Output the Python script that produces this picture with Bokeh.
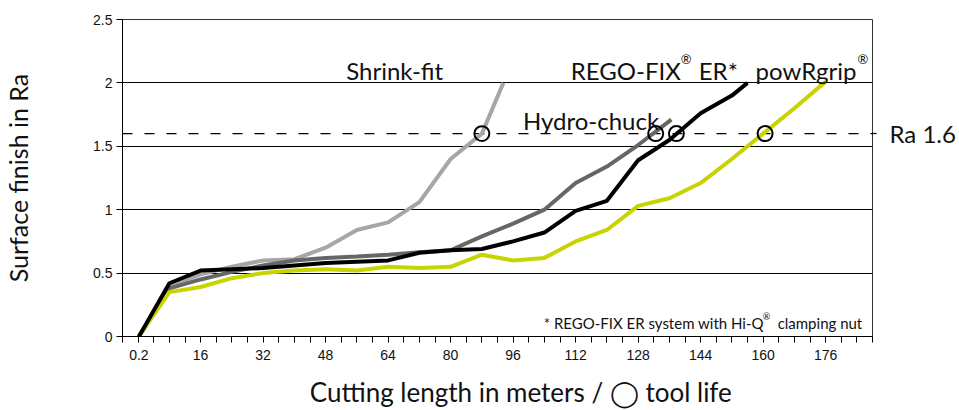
from bokeh.plotting import figure
from bokeh.models import FixedTicker, Label, Span, Range1d, LinearAxis
from bokeh.embed import file_html
from bokeh.resources import INLINE

# ---------------- data ----------------
shrink_x = [0.2, 8, 16, 24, 32, 40, 48, 56, 64, 72, 80, 88, 93.5]
shrink_y = [0, 0.40, 0.49, 0.55, 0.60, 0.61, 0.70, 0.84, 0.90, 1.06, 1.40, 1.60, 2.0]

hydro_x = [0.2, 8, 16, 24, 32, 40, 48, 56, 64, 72, 80, 88, 96, 104, 112, 120, 128, 136.5]
hydro_y = [0, 0.38, 0.45, 0.51, 0.56, 0.60, 0.62, 0.63, 0.645, 0.665, 0.68, 0.79, 0.89, 1.00, 1.21, 1.34, 1.51, 1.71]

rego_x = [0.2, 8, 16, 24, 32, 40, 48, 56, 64, 72, 80, 88, 96, 104, 112, 120, 128, 136, 144, 152, 156]
rego_y = [0, 0.42, 0.52, 0.53, 0.54, 0.56, 0.58, 0.59, 0.60, 0.66, 0.68, 0.69, 0.75, 0.82, 0.99, 1.07, 1.39, 1.55, 1.76, 1.90, 2.0]

powr_x = [0.2, 8, 16, 24, 32, 40, 48, 56, 64, 72, 80, 88, 96, 104, 112, 120, 128, 136, 144, 152, 160, 168, 176]
powr_y = [0, 0.35, 0.39, 0.46, 0.50, 0.52, 0.53, 0.52, 0.55, 0.54, 0.55, 0.645, 0.60, 0.62, 0.75, 0.84, 1.03, 1.09, 1.21, 1.40, 1.60, 1.80, 2.01]

tool_life_x = [88, 132.5, 137.8, 160.5]
tool_life_y = [1.6, 1.6, 1.6, 1.6]
ra_limit = 1.6
ra_label = "Ra 1.6"

x_tick_values = [0.2, 16, 32, 48, 64, 80, 96, 112, 128, 144, 160, 176]
x_tick_labels = ["0.2", "16", "32", "48", "64", "80", "96", "112", "128", "144", "160", "176"]
y_tick_values = [0, 0.5, 1, 1.5, 2, 2.5]
y_tick_labels = ["0", "0.5", "1", "1.5", "2", "2.5"]

x_title = "Cutting length in meters / ◯ tool life"
y_title = "Surface finish in Ra"

# ---------------- layout ----------------
W, H = 959, 410
BL, BR, BT, BB = 121, 87, 19, 74
X0, X1 = -4, 188
Y0, Y1 = 0, 2.5
FW = W - BL - BR
FH = H - BT - BB
SX = FW / (X1 - X0)
SY = FH / (Y1 - Y0)


def dx(px):
    return X0 + (px - BL) / SX


def dy(py):
    return Y1 - (py - BT) / SY


p = figure(width=W, height=H, output_backend="svg", toolbar_location=None,
           x_range=Range1d(X0, X1), y_range=Range1d(Y0, Y1),
           min_border_left=BL, min_border_right=BR, min_border_top=BT, min_border_bottom=BB)
p.background_fill_color = "white"
p.border_fill_color = "white"
p.outline_line_color = "#333333"
p.outline_line_width = 1

minor = [v for v in range(-4, 189, 4) if v % 16 != 0]
p.xaxis.ticker = FixedTicker(ticks=x_tick_values, minor_ticks=minor)
p.xaxis.major_label_overrides = {v: s for v, s in zip(x_tick_values, x_tick_labels)}
p.yaxis.ticker = FixedTicker(ticks=y_tick_values, minor_ticks=[])
p.yaxis.major_label_overrides = {v: s for v, s in zip(y_tick_values, y_tick_labels)}

for ax in (p.xaxis, p.yaxis):
    ax.axis_line_color = "black"
    ax.axis_line_width = 1
    ax.major_tick_line_color = "black"
    ax.major_tick_out = 6
    ax.major_tick_in = 0
    ax.minor_tick_line_color = "black"
    ax.minor_tick_out = 6
    ax.minor_tick_in = 0
    ax.major_label_text_font = "Liberation Sans"
    ax.major_label_text_font_size = "14px"
    ax.major_label_text_color = "#111111"
    ax.axis_label_text_font = "Lato"
    ax.axis_label_text_font_style = "normal"
    ax.axis_label_text_color = "#111111"
p.xaxis.major_label_standoff = 7
p.yaxis.major_label_standoff = 4

NBSP = "\u00a0"
p.xaxis.axis_label = NBSP * 7 + x_title
p.xaxis.axis_label_text_font_size = "26px"
p.xaxis.axis_label_standoff = 13
p.yaxis.axis_label = y_title
p.yaxis.axis_label_text_font_size = "25px"
p.yaxis.axis_label_standoff = 57

ra_axis = LinearAxis(ticker=FixedTicker(ticks=[ra_limit], minor_ticks=[]),
                     major_label_overrides={ra_limit: ra_label},
                     axis_line_color=None, major_tick_out=4, major_tick_in=0,
                     major_tick_line_color="black", major_tick_line_width=1.3,
                     minor_tick_line_color=None, major_label_standoff=13,
                     major_label_text_font="Lato", major_label_text_font_size="24px",
                     major_label_text_color="#111111")
p.add_layout(ra_axis, "right")

p.xgrid.visible = False
p.ygrid.ticker = FixedTicker(ticks=y_tick_values)
p.ygrid.grid_line_color = "black"
p.ygrid.grid_line_width = 1

p.add_layout(Span(location=ra_limit, dimension="width", line_color="black",
                  line_width=1.3, line_dash="10 12", level="underlay"))

p.line(shrink_x, shrink_y, line_color="#a6a6a6", line_width=4)
p.line(hydro_x, hydro_y, line_color="#666666", line_width=4)
p.line(powr_x, powr_y, line_color="#c8d400", line_width=4)
p.line(rego_x, rego_y, line_color="black", line_width=4)
p.scatter(tool_life_x, tool_life_y, marker="circle", size=15, fill_color=None,
          line_color="black", line_width=2)

FONT = "Lato"


def lab(text, px, py, size, align="left", baseline="alphabetic", color="#111111"):
    p.add_layout(Label(x=dx(px), y=dy(py), text=text, text_font=FONT,
                       text_font_size=f"{size}px", text_align=align,
                       text_baseline=baseline, text_color=color))


lab("Shrink-fit", 345, 70, 24)
lab("Hydro-chuck", 522, 120, 24)
lab("REGO-FIX", 680, 70, 24, align="right")
lab("®", 680, 58, 13)
lab("ER*", 698, 70, 24)
lab("powRgrip", 856, 70, 24, align="right")
lab("®", 857, 58, 13)
lab("*  REGO-FIX ER system with Hi-Q", 767, 322, 15, align="right")
lab("®", 762, 316, 9)
lab("clamping nut", 777, 322, 15)

open("out.html", "w").write(file_html(p, INLINE))
